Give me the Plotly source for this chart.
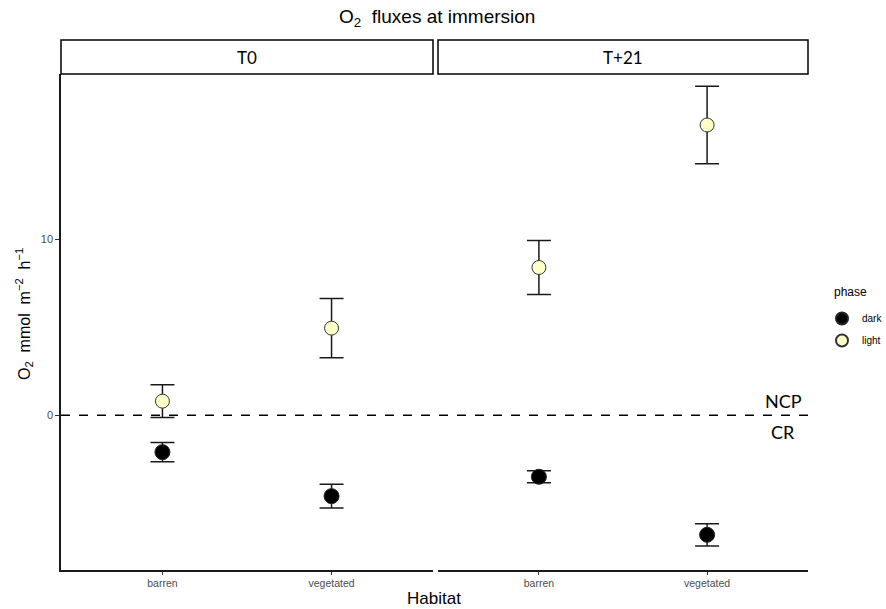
import plotly.graph_objects as go

habitats = ["barren", "vegetated"]
times = ["T0", "T+21"]
dark_mean = {"T0": [-2.1, -4.6], "T+21": [-3.5, -6.8]}
dark_err = {"T0": [0.55, 0.68], "T+21": [0.34, 0.63]}
light_mean = {"T0": [0.8, 4.95], "T+21": [8.4, 16.5]}
light_err = {"T0": [0.93, 1.68], "T+21": [1.53, 2.2]}

W, H = 886, 609
L, R, T, B = 61, 78, 74, 39
pw = W - L - R
ph = H - T - B
FONT = "Liberation Sans, Arial"
CAL = "Lato, Carlito, Calibri"
fig = go.Figure()

axes = [("x", "y"), ("x2", "y")]
for i, t in enumerate(times):
    xa, ya = axes[i]
    fig.add_trace(go.Scatter(
        x=habitats, y=dark_mean[t], xaxis=xa, yaxis=ya, mode="markers",
        name="dark", legendgroup="dark", showlegend=(i == 0),
        marker=dict(size=15, color="#000000", line=dict(color="#222222", width=1)),
        error_y=dict(type="data", array=dark_err[t], color="#1a1a1a", thickness=1.5, width=12),
    ))
    fig.add_trace(go.Scatter(
        x=habitats, y=light_mean[t], xaxis=xa, yaxis=ya, mode="markers",
        name="light", legendgroup="light", showlegend=(i == 0),
        marker=dict(size=14, color="#FFFFC8", line=dict(color="#333333", width=1)),
        error_y=dict(type="data", array=light_err[t], color="#1a1a1a", thickness=1.5, width=12),
    ))

d1 = (433 - L) / pw
d2 = (438 - L) / pw
xcommon = dict(type="category", range=[-0.6, 1.6], showline=True, linecolor="#1a1a1a",
               linewidth=1.5, ticks="outside", ticklen=3, tickcolor="#333333",
               tickfont=dict(family=FONT, size=10.5, color="#4D4D4D"),
               showgrid=False, zeroline=False, fixedrange=True)
fig.update_layout(
    width=W, height=H,
    margin=dict(l=L, r=R, t=T, b=B, autoexpand=False),
    paper_bgcolor="white", plot_bgcolor="white",
    xaxis=dict(domain=[0, d1], **xcommon),
    xaxis2=dict(domain=[d2, 1], **xcommon),
    yaxis=dict(range=[-8.8, 19.4], tickvals=[0, 10], ticktext=["0", "10"],
               showline=True, linecolor="#1a1a1a", linewidth=1.5, ticks="outside",
               ticklen=4, tickcolor="#333333", showgrid=False, zeroline=False,
               tickfont=dict(family=FONT, size=11, color="#4D4D4D")),
    showlegend=True,
    legend=dict(x=(822 - L) / pw, y=1 - (304 - T) / ph, xanchor="left", yanchor="top",
                font=dict(family=FONT, size=10, color="#000"),
                bgcolor="rgba(0,0,0,0)", itemsizing="constant", tracegroupgap=3,
                itemwidth=30),
)

def ann(text, x, y, size, xref="paper", yref="paper", angle=0, family=FONT, xanchor="center"):
    fig.add_annotation(text=text, xref=xref, yref=yref, x=x, y=y, showarrow=False,
                       xanchor=xanchor, yanchor="middle", textangle=angle,
                       font=dict(family=family, size=size, color="#000"))

# title
ann("O<sub>2</sub>  fluxes at immersion", (437 - L) / pw, 1 + (T - 18) / ph, 19)
# x title
ann("Habitat", (434 - L) / pw, -(598 - (H - B)) / ph, 17)
# y title
ann("O<sub>2</sub>  mmol  m<sup>−2</sup>  h<sup>−1</sup>", -(L - 24) / pw, 1 - (314 - T) / ph, 16, angle=-90)
# legend title
ann("phase", (832 - L) / pw, 1 - (292 - T) / ph, 12, xanchor="left")

# strips
strip_y0 = 1.0
strip_y1 = 1 + (T - 40) / ph
for (x0, x1), t in zip([(0, d1), (d2, 1)], times):
    fig.add_shape(type="rect", xref="paper", yref="paper", x0=x0, x1=x1,
                  y0=strip_y0, y1=strip_y1, line=dict(color="#000", width=1.5),
                  fillcolor="white")
    ann(t, (x0 + x1) / 2, (strip_y0 + strip_y1) / 2, 17, family=CAL)

# dashed zero line
fig.add_shape(type="line", xref="paper", yref="y", x0=0, x1=1, y0=0, y1=0,
              line=dict(color="#000", width=1.5, dash="dash"))
ann("NCP", (783 - L) / pw, 0.8, 18, yref="y", family=CAL)
ann("CR", (783 - L) / pw, -0.95, 18, yref="y", family=CAL)

fig.write_html("out.html")
